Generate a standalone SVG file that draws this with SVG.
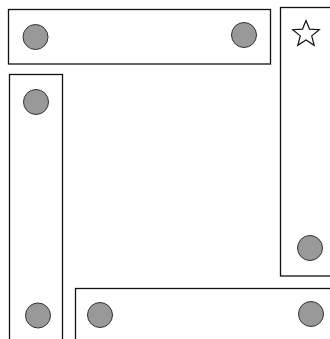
<svg xmlns="http://www.w3.org/2000/svg" width="330" height="339" viewBox="0 0 330 339">
<style>
.panel{fill:#ffffff;stroke:#111111;stroke-width:1.3}
.dot{fill:#999999;stroke:#333333;stroke-width:1}
.star{fill:#ffffff;stroke:#111111;stroke-width:1.2;stroke-linejoin:miter}
</style>
<rect x="0" y="0" width="330" height="339" fill="#ffffff"/>
<g id="top-panel">
<rect class="panel" x="8.5" y="9.5" width="262" height="54.5"/>
<circle class="dot" cx="35.5" cy="37" r="12.5"/>
<circle class="dot" cx="244" cy="35" r="12.5"/>
</g>
<g id="right-panel">
<rect class="panel" x="280.5" y="7.5" width="60" height="268.5"/>
<polygon class="star" points="306,20.5 309.5,29.1 319.3,29.7 311.7,35.9 314.2,45.3 306,40 297.8,45.3 300.3,35.9 292.7,29.7 302.5,29.1"/>
<circle class="dot" cx="310" cy="248" r="12.5"/>
</g>
<g id="left-panel">
<rect class="panel" x="9.5" y="74.5" width="53" height="280"/>
<circle class="dot" cx="36" cy="102" r="12.5"/>
<circle class="dot" cx="38" cy="315.5" r="12.5"/>
</g>
<g id="bottom-panel">
<rect class="panel" x="75.5" y="288.5" width="270" height="60"/>
<circle class="dot" cx="100" cy="315" r="12.5"/>
<circle class="dot" cx="311" cy="314" r="12.5"/>
</g>
<g id="connectors"></g>
</svg>
